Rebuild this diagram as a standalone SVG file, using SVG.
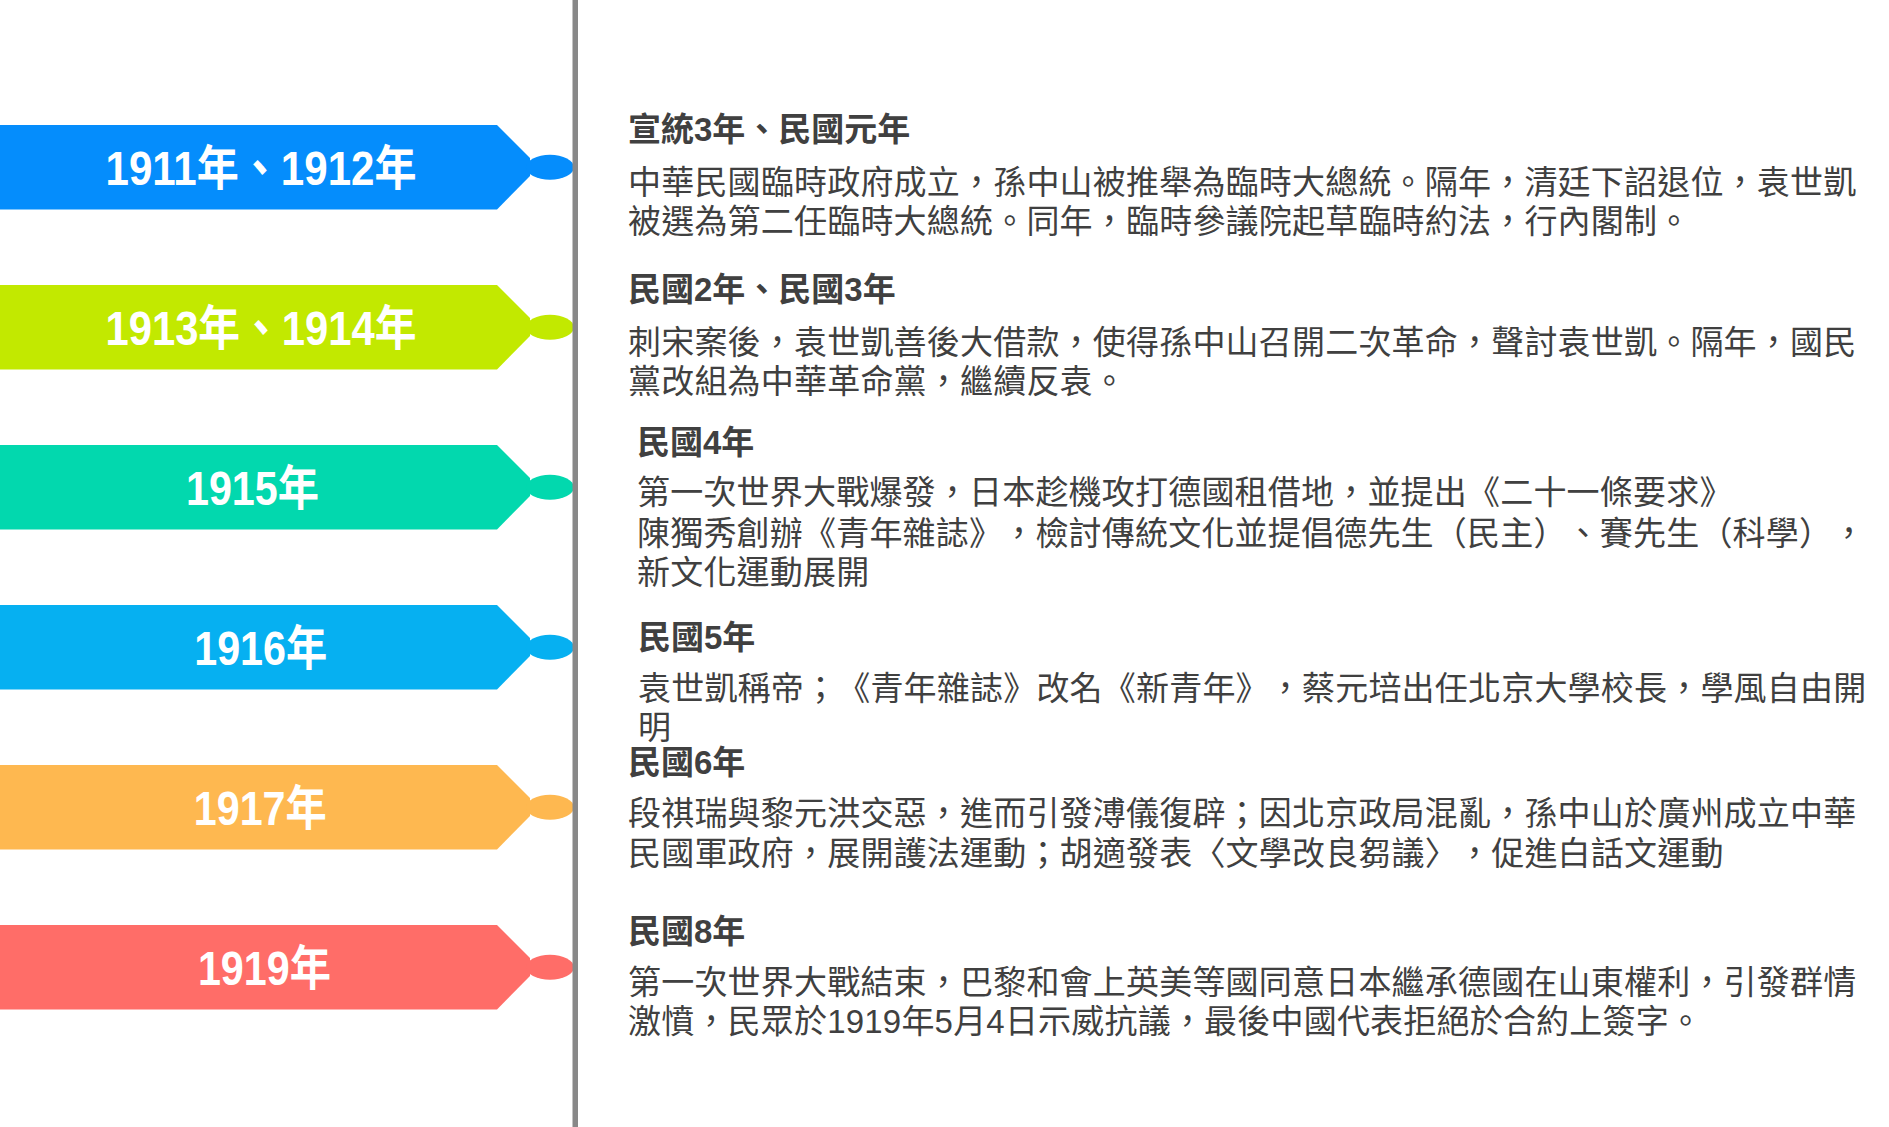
<svg xmlns="http://www.w3.org/2000/svg" width="1889" height="1127" viewBox="0 0 1889 1127">
<style>
.lbl{font-family:"Liberation Sans","Noto Sans CJK TC",sans-serif;font-weight:bold;font-size:48px;fill:#ffffff;text-anchor:middle}
.hd{font-family:"Liberation Sans","Noto Sans CJK TC",sans-serif;font-weight:bold;font-size:33px;fill:#404040;text-spacing-trim:space-all}
.bd{font-family:"Liberation Sans","Noto Sans CJK TC",sans-serif;font-size:33px;letter-spacing:0.2px;fill:#404040;text-spacing-trim:space-all}
.c1{fill:#058dfc}.c2{fill:#c2e900}.c3{fill:#02d8ae}.c4{fill:#06b0f1}.c5{fill:#feb850}.c6{fill:#ff6d68}
</style>
<defs>
<g id="tag">
<polygon points="0,0 497,0 530,33 530,51 497,84.5 0,84.5"/>
<ellipse cx="550" cy="42.25" rx="24" ry="12.5"/>
</g>
</defs>
<g id="node-1911">
<use href="#tag" class="c1" transform="translate(0,125)"/>
<text class="lbl" x="261" y="184.5" textLength="311" lengthAdjust="spacingAndGlyphs">1911年、1912年</text>
</g>
<g id="node-1913">
<use href="#tag" class="c2" transform="translate(0,285)"/>
<text class="lbl" x="261" y="344.5" textLength="311" lengthAdjust="spacingAndGlyphs">1913年、1914年</text>
</g>
<g id="node-1915">
<use href="#tag" class="c3" transform="translate(0,445)"/>
<text class="lbl" x="252.5" y="504.5" textLength="133" lengthAdjust="spacingAndGlyphs">1915年</text>
</g>
<g id="node-1916">
<use href="#tag" class="c4" transform="translate(0,605)"/>
<text class="lbl" x="260.7" y="664.5" textLength="133" lengthAdjust="spacingAndGlyphs">1916年</text>
</g>
<g id="node-1917">
<use href="#tag" class="c5" transform="translate(0,765)"/>
<text class="lbl" x="260.3" y="824.5" textLength="133" lengthAdjust="spacingAndGlyphs">1917年</text>
</g>
<g id="node-1919">
<use href="#tag" class="c6" transform="translate(0,925)"/>
<text class="lbl" x="264.4" y="984.5" textLength="133" lengthAdjust="spacingAndGlyphs">1919年</text>
</g>
<g id="connectors">
<rect x="572.5" y="0" width="5.5" height="1127" fill="#888888"/>
</g>
<g id="text-1911">
<text class="hd" x="628" y="140.5">宣統3年、民國元年</text>
<text class="bd" x="628" y="194">中華民國臨時政府成立，孫中山被推舉為臨時大總統。隔年，清廷下詔退位，袁世凱</text>
<text class="bd" x="628" y="233">被選為第二任臨時大總統。同年，臨時參議院起草臨時約法，行內閣制。</text>
</g>
<g id="text-1913">
<text class="hd" x="628" y="301">民國2年、民國3年</text>
<text class="bd" x="628" y="353.5">刺宋案後，袁世凱善後大借款，使得孫中山召開二次革命，聲討袁世凱。隔年，國民</text>
<text class="bd" x="628" y="392.5">黨改組為中華革命黨，繼續反袁。</text>
</g>
<g id="text-1915">
<text class="hd" x="637" y="453.5">民國4年</text>
<text class="bd" x="637" y="504">第一次世界大戰爆發，日本趁機攻打德國租借地，並提出《二十一條要求》</text>
<text class="bd" x="637" y="544.5">陳獨秀創辦《青年雜誌》，檢討傳統文化並提倡德先生（民主）、賽先生（科學），</text>
<text class="bd" x="637" y="583.5">新文化運動展開</text>
</g>
<g id="text-1916">
<text class="hd" x="638" y="649">民國5年</text>
<text class="bd" x="638" y="700">袁世凱稱帝；《青年雜誌》改名《新青年》，蔡元培出任北京大學校長，學風自由開</text>
<text class="bd" x="638" y="739">明</text>
</g>
<g id="text-1917">
<text class="hd" x="628" y="773.5">民國6年</text>
<text class="bd" x="628" y="825">段祺瑞與黎元洪交惡，進而引發溥儀復辟；因北京政局混亂，孫中山於廣州成立中華</text>
<text class="bd" x="628" y="864.5">民國軍政府，展開護法運動；胡適發表〈文學改良芻議〉，促進白話文運動</text>
</g>
<g id="text-1919">
<text class="hd" x="628" y="942.5">民國8年</text>
<text class="bd" x="628" y="993.5">第一次世界大戰結束，巴黎和會上英美等國同意日本繼承德國在山東權利，引發群情</text>
<text class="bd" x="628" y="1033">激憤，民眾於1919年5月4日示威抗議，最後中國代表拒絕於合約上簽字。</text>
</g>
</svg>
